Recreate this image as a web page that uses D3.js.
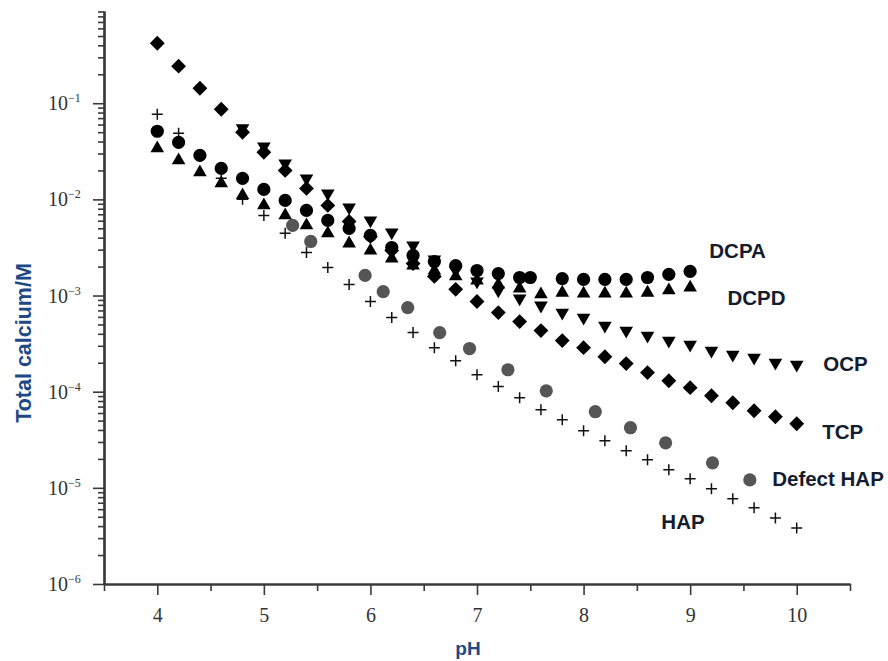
<!DOCTYPE html>
<html>
<head>
<meta charset="utf-8">
<script src="https://cdn.jsdelivr.net/npm/d3@7/dist/d3.min.js"></script>
<style>
  html, body { margin: 0; padding: 0; background: #fff; }
  svg { display: block; }
</style>
</head>
<body>
<script>
// ---------------- DATA ----------------
const phGrid = [4.0,4.2,4.4,4.6,4.8,5.0,5.2,5.4,5.6,5.8,6.0,6.2,6.4,6.6,6.8,7.0,7.2,7.4,7.6,7.8,8.0,8.2,8.4,8.6,8.8,9.0,9.2,9.4,9.6,9.8,10.0];

const tcpPH = phGrid;
const tcpCa = [0.42,0.243,0.143,0.0866,0.0499,0.0309,0.0200,0.0130,0.00866,0.0059,0.00412,0.00294,0.00215,0.00158,0.00116,
               8.66e-4,6.65e-4,5.36e-4,4.32e-4,3.40e-4,2.87e-4,2.31e-4,1.96e-4,1.58e-4,1.30e-4,1.10e-4,9.08e-5,7.68e-5,6.34e-5,5.49e-5,4.64e-5];

const ocpPH = phGrid.slice(4);
const ocpCa = [0.0549,0.0356,0.0237,0.01655,0.01155,0.00825,0.00604,0.00453,0.00332,0.00237,0.00182,0.00140,0.00113,
               9.31e-4,7.87e-4,6.65e-4,5.90e-4,4.87e-4,4.32e-4,3.83e-4,3.40e-4,3.09e-4,2.67e-4,2.43e-4,2.26e-4,2.00e-4,1.91e-4];

const dcpaPH = [4.0,4.2,4.4,4.6,4.8,5.0,5.2,5.4,5.6,5.8,6.0,6.2,6.4,6.6,6.8,7.0,7.2,7.4,7.5,7.8,8.0,8.2,8.4,8.6,8.8,9.0];
const dcpaCa = [0.0511,0.0392,0.0287,0.0210,0.01655,0.0127,0.00976,0.00768,0.00604,0.00499,0.00422,0.00316,0.00261,0.00226,0.00205,
                0.00182,0.00169,0.00154,0.00154,0.00150,0.00147,0.00147,0.00147,0.00154,0.00166,0.00178];

const dcpdPH = phGrid.slice(0, 26);
const dcpdCa = [0.0340,0.0255,0.0191,0.0147,0.0110,0.00866,0.00681,0.00536,0.00443,0.00348,0.00294,0.00243,0.00205,0.00182,0.00158,
                0.00143,0.00130,0.00118,0.00103,0.00107,0.00105,0.00105,0.00105,0.00107,0.00113,0.00121];

const hapPH = phGrid;
const hapCa = [0.0768,0.0487,0.0281,0.01655,0.0100,0.00681,0.00443,0.00281,0.00196,0.00130,8.66e-4,5.90e-4,4.12e-4,2.87e-4,2.10e-4,
               1.50e-4,1.13e-4,8.66e-5,6.49e-5,5.11e-5,3.92e-5,3.09e-5,2.43e-5,1.96e-5,1.54e-5,1.24e-5,9.76e-6,7.68e-6,6.19e-6,4.87e-6,3.83e-6];

const defectPH = [5.27,5.44,5.95,6.12,6.35,6.65,6.93,7.29,7.65,8.11,8.44,8.77,9.21,9.56];
const defectCa = [0.00536,0.00365,0.00162,0.00110,7.5e-4,4.12e-4,2.81e-4,1.69e-4,1.02e-4,6.19e-5,4.22e-5,2.94e-5,1.82e-5,1.21e-5];

// label anchors (in data coordinates)
const labelNames = ["DCPA","DCPD","OCP","TCP","Defect HAP","HAP"];
const labelPH    = [9.18, 9.35, 10.25, 10.24, 9.77, 8.73];
const labelCa    = [2.94e-3, 9.5e-4, 1.96e-4, 3.83e-5, 1.24e-5, 4.42e-6];

const xMajor = [4,5,6,7,8,9,10];
const xMinor = [3.5,4.5,5.5,6.5,7.5,8.5,9.5,10.5];
const yExponents = [-6,-5,-4,-3,-2,-1];

const xTitle = "pH";
const yTitle = "Total calcium/M";

// ---------------- CHART ----------------
const W = 888, H = 661;
const svg = d3.select("body").append("svg").attr("width", W).attr("height", H);

const x = d3.scaleLinear().domain([3.5, 10.5]).range([104, 850]);
const y = d3.scaleLog().domain([1e-6, 0.91]).range([584, 11]);

const axisColor = "#3a3a3a";
const tickFont = "'Liberation Serif','Times New Roman',serif";
const sansBold = "'Liberation Sans',Arial,sans-serif";

// Y axis
const yMajorVals = yExponents.map(e => Math.pow(10, e));
const yMinorVals = [];
for (let e = -6; e <= -1; e++) for (let m = 2; m <= 9; m++) {
  const v = m * Math.pow(10, e);
  if (v <= 0.91) yMinorVals.push(v);
}
const gy = svg.append("g").attr("transform", "translate(104,0)");
gy.call(d3.axisLeft(y).tickValues(yMinorVals).tickSize(6).tickSizeOuter(0).tickFormat(""));
gy.call(g => g.append("g").call(d3.axisLeft(y).tickValues(yMajorVals).tickSize(11).tickSizeOuter(0).tickFormat("")));
gy.selectAll("path.domain").attr("stroke", axisColor).attr("stroke-width", 2.2);
gy.selectAll(".tick line").attr("stroke", axisColor).attr("stroke-width", 1.6);

// y tick labels: 10^e
yExponents.forEach(e => {
  const t = svg.append("text")
    .attr("x", 48).attr("y", y(Math.pow(10, e)) + 7)
    .attr("font-family", tickFont).attr("font-size", 20).attr("fill", "#333");
  t.append("tspan").text("10");
  t.append("tspan").attr("dy", -8).attr("font-size", 12).text("\u2212" + Math.abs(e));
});

// X axis
const gx = svg.append("g").attr("transform", "translate(0,584)");
gx.call(d3.axisBottom(x).tickValues(xMinor).tickSize(7).tickSizeOuter(0).tickFormat(""));
gx.call(g => g.append("g").call(d3.axisBottom(x).tickValues(xMajor).tickSize(11).tickSizeOuter(0).tickFormat(d3.format("d"))));
gx.selectAll("path.domain").attr("stroke", axisColor).attr("stroke-width", 1.8);
gx.selectAll(".tick line").attr("stroke", axisColor).attr("stroke-width", 1.6);
gx.selectAll(".tick text").attr("font-family", tickFont).attr("font-size", 20).attr("fill", "#333").attr("dy", 0).attr("y", 38);

// Axis titles
svg.append("text").attr("x", 468).attr("y", 655).attr("text-anchor", "middle")
  .attr("font-family", sansBold).attr("font-weight", "bold").attr("font-size", 19)
  .attr("fill", "#1d4a86").text(xTitle);
svg.append("text").attr("transform", "translate(31,343) rotate(-90)").attr("text-anchor", "middle")
  .attr("font-family", sansBold).attr("font-weight", "bold").attr("font-size", 21.5)
  .attr("fill", "#1d4a86").text(yTitle);

// Markers
const plot = svg.append("g");
function pts(px, py) { return px.map((p, i) => ({ p, v: py[i] })); }

// HAP (+)
plot.append("g").selectAll("path").data(pts(hapPH, hapCa)).join("path")
  .attr("d", d => { const cx = x(d.p), cy = y(d.v), s = 5.5;
    return `M${cx - s},${cy}H${cx + s}M${cx},${cy - s}V${cy + s}`; })
  .attr("stroke", "#111").attr("stroke-width", 1.5).attr("fill", "none");

// Defect HAP (gray circles)
plot.append("g").selectAll("circle").data(pts(defectPH, defectCa)).join("circle")
  .attr("cx", d => x(d.p)).attr("cy", d => y(d.v)).attr("r", 6.6).attr("fill", "#555");

// TCP (diamonds)
const diamond = d3.symbol().type(d3.symbolSquare).size(110);
plot.append("g").selectAll("path").data(pts(tcpPH, tcpCa)).join("path")
  .attr("d", diamond)
  .attr("transform", d => `translate(${x(d.p)},${y(d.v)}) rotate(45)`).attr("fill", "#000");

// OCP (down triangles)
const tri = d3.symbol().type(d3.symbolTriangle).size(80);
plot.append("g").selectAll("path").data(pts(ocpPH, ocpCa)).join("path")
  .attr("d", tri)
  .attr("transform", d => `translate(${x(d.p)},${y(d.v)}) rotate(180)`).attr("fill", "#000");

// DCPD (up triangles)
plot.append("g").selectAll("path").data(pts(dcpdPH, dcpdCa)).join("path")
  .attr("d", tri)
  .attr("transform", d => `translate(${x(d.p)},${y(d.v)})`).attr("fill", "#000");

// DCPA (black circles)
plot.append("g").selectAll("circle").data(pts(dcpaPH, dcpaCa)).join("circle")
  .attr("cx", d => x(d.p)).attr("cy", d => y(d.v)).attr("r", 6.6).attr("fill", "#000");

// Series labels
svg.append("g").selectAll("text").data(labelNames.map((n, i) => ({ n, p: labelPH[i], v: labelCa[i] }))).join("text")
  .attr("x", d => x(d.p)).attr("y", d => y(d.v)).attr("dy", "0.35em")
  .attr("font-family", sansBold).attr("font-weight", "bold").attr("font-size", 20.5)
  .attr("fill", "#141c30").text(d => d.n);
</script>
</body>
</html>
